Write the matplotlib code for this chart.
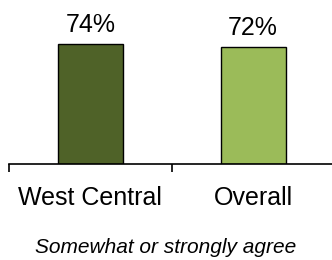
import matplotlib
matplotlib.use("Agg")
from matplotlib import pyplot as plt

# Daten
categories = ["West Central", "Overall"]
values = [74, 72]
labels = ["74%", "72%"]
bar_colors = ["#4f6228", "#9bbb59"]
caption = "Somewhat or strongly agree"

plt.rcParams["font.family"] = ["Liberation Sans", "DejaVu Sans"]

W, H = 332, 260
fig = plt.figure(figsize=(W / 100, H / 100), dpi=100)
# axes: x from 9px to ~334px, y from 2px to 164px (top origin)
ax = fig.add_axes([9 / W, (H - 164) / H, 325.5 / W, 162 / H])

x = range(len(categories))
bars = ax.bar(x, values, width=0.4, color=bar_colors, edgecolor="black", linewidth=1)
ax.bar_label(bars, labels=labels, padding=5, fontsize=18)

ax.set_xlim(-0.5, 1.5)
ax.set_ylim(0, 100)

for side in ["top", "right", "left"]:
    ax.spines[side].set_visible(False)
ax.spines["bottom"].set_linewidth(1.2)
ax.set_yticks([])

ax.set_xticks(list(x))
ax.set_xticklabels(categories, fontsize=18)
ax.tick_params(axis="x", which="major", length=0, pad=16)
ax.set_xticks([-0.5, 0.5, 1.5], minor=True)
ax.tick_params(axis="x", which="minor", length=6, width=1.2, direction="out")

fig.text(0.5, (H - 253) / H, caption, ha="center", va="baseline",
         fontsize=15, style="italic")

fig.savefig("out.png", dpi=100)
